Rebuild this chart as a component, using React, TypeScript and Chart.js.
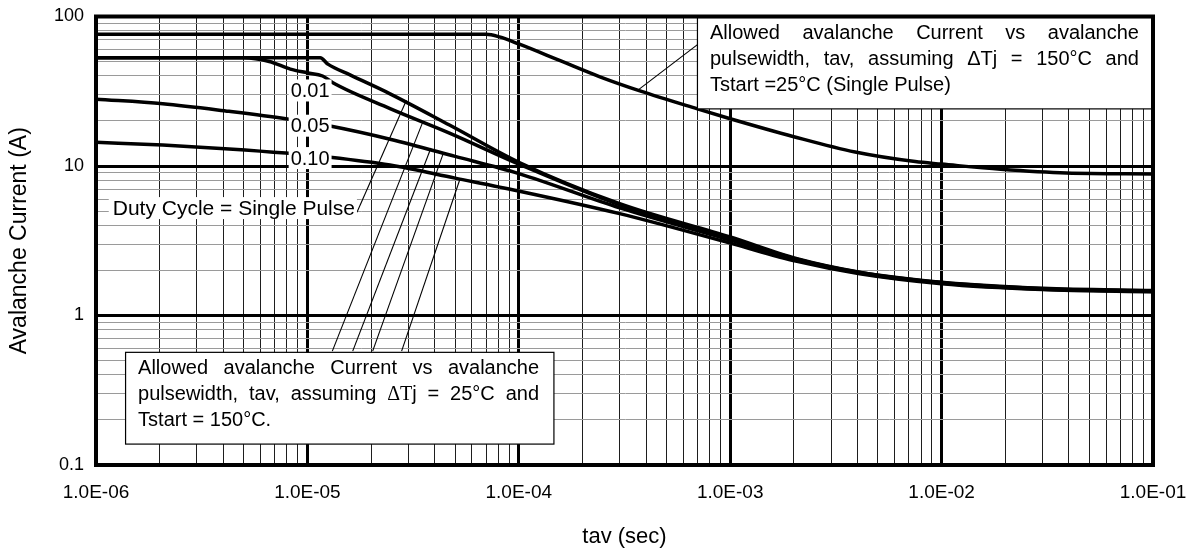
import React, { useEffect, useRef } from 'react';
import { Chart, registerables } from 'chart.js';

Chart.register(...registerables);

const FONT = '"Liberation Sans", Arial, Helvetica, sans-serif';
const SERIF = '"Liberation Serif", "Times New Roman", serif';

// ---- Data (tav in seconds, avalanche current in A) ----
const tj150T = [1e-6, 7e-5, 8.1e-5, 1e-4, 1.57e-4, 2.42e-4, 3.74e-4, 7e-4, 1e-3, 2e-3, 3.9e-3, 7.5e-3, 1e-2, 1.9e-2, 3.9e-2, 1e-1];
const tj150A = [76, 76, 73, 65.5, 50.6, 39.5, 31.8, 24.1, 20.7, 15.7, 12.4, 10.7, 10.3, 9.5, 8.97, 8.85];

const singleT = [1e-6, 1.15e-5, 1.25e-5, 1.6e-5, 2.46e-5, 4.7e-5, 1e-4, 3e-4, 1e-3, 2.07e-3, 4.1e-3, 1e-2, 3e-2, 1e-1];
const singleA = [53, 53, 48, 40.5, 30.4, 18.8, 10.6, 5.6, 3.35, 2.4, 1.95, 1.67, 1.52, 1.47];

const duty01T = [1e-6, 5e-6, 6.6e-6, 8.3e-6, 1e-5, 1.18e-5, 1.32e-5, 2.46e-5, 4.7e-5, 1e-4, 3e-4, 1e-3, 2.07e-3, 4.1e-3, 1e-2, 3e-2, 1e-1];
const duty01A = [53, 53, 50, 44.5, 42, 40, 36, 24.2, 16.6, 10.3, 5.5, 3.3, 2.38, 1.94, 1.66, 1.51, 1.46];

const duty05T = [1e-6, 2.07e-6, 4.26e-6, 7.9e-6, 1.28e-5, 2.46e-5, 5e-5, 1e-4, 3e-4, 1e-3, 2.07e-3, 4.1e-3, 1e-2, 3e-2, 1e-1];
const duty05A = [28, 26.1, 23.2, 20.7, 18.5, 15.1, 11.6, 8.9, 5.25, 3.2, 2.35, 1.92, 1.65, 1.5, 1.45];

const duty10T = [1e-6, 2.07e-6, 4.26e-6, 7.9e-6, 1.28e-5, 2.46e-5, 5e-5, 1e-4, 3e-4, 1e-3, 2.07e-3, 4.1e-3, 1e-2, 3e-2, 1e-1];
const duty10A = [14.4, 13.8, 13.0, 12.2, 11.45, 10.15, 8.3, 6.8, 4.8, 3.05, 2.3, 1.9, 1.63, 1.49, 1.44];

// ---- Axes ----
const xDecades = [1e-6, 1e-5, 1e-4, 1e-3, 1e-2, 1e-1];
const xTickLabels = ['1.0E-06', '1.0E-05', '1.0E-04', '1.0E-03', '1.0E-02', '1.0E-01'];
const yDecades = [0.1, 1, 10, 100];
const yTickLabels = ['0.1', '1', '10', '100'];
const xTitle = 'tav (sec)';
const yTitle = 'Avalanche Current (A)';

// ---- Annotations (data coordinates) ----
const dutyLabels = ['0.01', '0.05', '0.10'];
const dutyLabelT = 1.03e-5;
const dutyLabelA = [32.0, 18.6, 11.3];

const singlePulseLabel = 'Duty Cycle = Single Pulse';
const singlePulseLabelT = 1.2e-6;
const singlePulseLabelA = 5.23;

const leaderFromT = [1.716e-5, 1.312e-5, 1.638e-5, 2.036e-5, 2.79e-5, 3.66e-4];
const leaderFromA = [4.91, 0.578, 0.578, 0.578, 0.578, 32.2];
const leaderToT = [2.94e-5, 3.52e-5, 3.84e-5, 4.38e-5, 5.27e-5, 7.0e-4];
const leaderToA = [27.5, 19.8, 13.2, 12.0, 8.18, 64.9];

const upperBoxT = [7.0e-4, 0.0988];
const upperBoxA = [98.5, 24.1];
const upperBoxLines = [
  'Allowed avalanche Current vs avalanche',
  'pulsewidth, tav, assuming \u0394Tj = 150\u00b0C and',
  'Tstart =25\u00b0C (Single Pulse)',
];

const lowerBoxT = [1.38e-6, 1.466e-4];
const lowerBoxA = [0.567, 0.138];
const lowerBoxLines = [
  'Allowed avalanche Current vs avalanche',
  'pulsewidth, tav, assuming \u0394Tj = 25\u00b0C and',
  'Tstart = 150\u00b0C.',
];

function logTicks(decades: number[]) {
  const out: number[] = [];
  for (let i = 0; i < decades.length - 1; i++) {
    for (let m = 1; m <= 9; m++) out.push(m * decades[i]);
  }
  out.push(decades[decades.length - 1]);
  return out;
}

function isDecade(v: number) {
  const l = Math.log10(v);
  return Math.abs(l - Math.round(l)) < 1e-6;
}

function decadeLabel(value: number, decades: number[], labels: string[]) {
  const i = decades.findIndex((d) => Math.abs(d - value) / d < 1e-6);
  return i >= 0 ? labels[i] : '';
}

type Run = { text: string; font: string };

function toWords(line: string, serifDelta: boolean): Run[][] {
  const sans = `20px ${FONT}`;
  const serif = `20px ${SERIF}`;
  return line.split(' ').map((w) => {
    if (serifDelta && w.startsWith('\u0394T')) {
      return [
        { text: '\u0394T', font: serif },
        { text: w.slice(2), font: sans },
      ];
    }
    return [{ text: w, font: sans }];
  });
}

function drawLine(ctx: CanvasRenderingContext2D, words: Run[][], x: number, y: number, width: number, justify: boolean) {
  const widths = words.map((w) =>
    w.reduce((s, r) => {
      ctx.font = r.font;
      return s + ctx.measureText(r.text).width;
    }, 0)
  );
  ctx.font = `20px ${FONT}`;
  const space = ctx.measureText(' ').width;
  const total = widths.reduce((a, b) => a + b, 0);
  const gap = justify && words.length > 1 ? (width - total) / (words.length - 1) : space;
  let cx = x;
  words.forEach((w, i) => {
    let wx = cx;
    w.forEach((r) => {
      ctx.font = r.font;
      ctx.fillText(r.text, wx, y);
      wx += ctx.measureText(r.text).width;
    });
    cx += widths[i] + gap;
  });
}

const overlayPlugin = {
  id: 'overlay',
  afterDatasetsDraw(chart: any) {
    const ctx: CanvasRenderingContext2D = chart.ctx;
    const xs = chart.scales.x;
    const ys = chart.scales.y;
    const px = (t: number) => xs.getPixelForValue(t);
    const py = (a: number) => ys.getPixelForValue(a);
    ctx.save();

    // leader lines
    ctx.strokeStyle = '#000';
    ctx.lineWidth = 1.1;
    for (let i = 0; i < leaderFromT.length; i++) {
      ctx.beginPath();
      ctx.moveTo(px(leaderFromT[i]), py(leaderFromA[i]));
      ctx.lineTo(px(leaderToT[i]), py(leaderToA[i]));
      ctx.stroke();
    }

    // duty cycle labels
    ctx.textBaseline = 'middle';
    ctx.textAlign = 'center';
    ctx.font = `20px ${FONT}`;
    dutyLabels.forEach((lab, i) => {
      const cx = px(dutyLabelT);
      const cy = py(dutyLabelA[i]);
      const w = ctx.measureText(lab).width;
      ctx.fillStyle = '#fff';
      ctx.fillRect(cx - w / 2 - 2, cy - 11, w + 4, 22);
      ctx.fillStyle = '#000';
      ctx.fillText(lab, cx, cy + 1);
    });

    // single pulse label
    ctx.textAlign = 'left';
    ctx.font = `21px ${FONT}`;
    {
      const lx = px(singlePulseLabelT);
      const ly = py(singlePulseLabelA);
      const w = ctx.measureText(singlePulseLabel).width;
      ctx.fillStyle = '#fff';
      ctx.fillRect(lx - 4, ly - 11, w + 6, 22);
      ctx.fillStyle = '#000';
      ctx.fillText(singlePulseLabel, lx, ly + 1);
    }

    // text boxes
    const boxes = [
      { t: upperBoxT, a: upperBoxA, lines: upperBoxLines, serif: false, width: 429 },
      { t: lowerBoxT, a: lowerBoxA, lines: lowerBoxLines, serif: true, width: 401 },
    ];
    boxes.forEach((b) => {
      const x0 = px(b.t[0]);
      const x1 = px(b.t[1]);
      const y0 = py(b.a[0]);
      const y1 = py(b.a[1]);
      ctx.fillStyle = '#fff';
      ctx.fillRect(x0, y0, x1 - x0, y1 - y0);
      ctx.strokeStyle = '#000';
      ctx.lineWidth = 1.2;
      ctx.strokeRect(x0, y0, x1 - x0, y1 - y0);
      ctx.fillStyle = '#000';
      ctx.textAlign = 'left';
      ctx.textBaseline = 'middle';
      b.lines.forEach((line, i) => {
        const words = toWords(line, b.serif);
        drawLine(ctx, words, x0 + 12.5, y0 + 16.5 + 25.8 * i, b.width, i < b.lines.length - 1);
      });
    });

    ctx.restore();
  },
  afterDraw(chart: any) {
    const ctx: CanvasRenderingContext2D = chart.ctx;
    const a = chart.chartArea;
    ctx.save();
    ctx.strokeStyle = '#000';
    ctx.lineWidth = 4;
    ctx.strokeRect(a.left, a.top, a.right - a.left, a.bottom - a.top);

    ctx.fillStyle = '#000';
    ctx.textAlign = 'center';
    ctx.textBaseline = 'middle';
    ctx.font = `22px ${FONT}`;
    ctx.fillText(xTitle, (a.left + a.right) / 2, 537);

    ctx.translate(20, (a.top + a.bottom) / 2);
    ctx.rotate(-Math.PI / 2);
    ctx.font = `23px ${FONT}`;
    ctx.fillText(yTitle, 0, 0);
    ctx.restore();
  },
};

function series(t: number[], a: number[]) {
  return t.map((v, i) => ({ x: v, y: a[i] }));
}

export default function App() {
  const canvasRef = useRef<HTMLCanvasElement | null>(null);

  useEffect(() => {
    if (!canvasRef.current) return;
    const xTicks = logTicks(xDecades);
    const yTicks = logTicks(yDecades);
    const lineStyle = {
      borderColor: '#000',
      borderWidth: 3.5,
      pointRadius: 0,
      fill: false,
      cubicInterpolationMode: 'monotone' as const,
    };
    const chart = new Chart(canvasRef.current, {
      type: 'line',
      data: {
        datasets: [
          { label: 'dTj=150C Tstart=25C', data: series(tj150T, tj150A), ...lineStyle },
          { label: 'Single Pulse', data: series(singleT, singleA), ...lineStyle },
          { label: '0.01', data: series(duty01T, duty01A), ...lineStyle },
          { label: '0.05', data: series(duty05T, duty05A), ...lineStyle },
          { label: '0.10', data: series(duty10T, duty10A), ...lineStyle },
        ],
      },
      options: {
        animation: false,
        responsive: false,
        layout: { padding: { left: 0, right: 40, top: 16.5, bottom: 0 } },
        plugins: { legend: { display: false }, tooltip: { enabled: false } },
        scales: {
          x: {
            type: 'logarithmic',
            min: 1e-6,
            max: 1e-1,
            afterBuildTicks: (scale: any) => {
              scale.ticks = xTicks.map((v) => ({ value: v }));
            },
            afterFit: (scale: any) => {
              scale.height = 85;
              scale.paddingLeft = 0;
              scale.paddingRight = 0;
            },
            ticks: {
              autoSkip: false,
              maxRotation: 0,
              padding: 16,
              color: '#000',
              font: { family: FONT, size: 19 },
              callback: (value: any) => decadeLabel(Number(value), xDecades, xTickLabels),
            },
            grid: {
              drawTicks: false,
              color: (c: any) => (c.tick && isDecade(c.tick.value) ? '#000' : '#1e1e1e'),
              lineWidth: (c: any) => (c.tick && isDecade(c.tick.value) ? 3 : 1),
            },
            border: { display: true, color: '#000', width: 4 },
          },
          y: {
            type: 'logarithmic',
            min: 0.1,
            max: 100,
            afterBuildTicks: (scale: any) => {
              scale.ticks = yTicks.map((v) => ({ value: v }));
            },
            afterFit: (scale: any) => {
              scale.width = 96;
              scale.paddingTop = 0;
              scale.paddingBottom = 0;
            },
            ticks: {
              autoSkip: false,
              padding: 12,
              color: '#000',
              font: { family: FONT, size: 18 },
              callback: (value: any) => decadeLabel(Number(value), yDecades, yTickLabels),
            },
            grid: {
              drawTicks: false,
              color: (c: any) => (c.tick && isDecade(c.tick.value) ? '#000' : '#9a9a9a'),
              lineWidth: (c: any) => (c.tick && isDecade(c.tick.value) ? 3 : 1),
            },
            border: { display: true, color: '#000', width: 4 },
          },
        },
      },
      plugins: [overlayPlugin],
    } as any);
    return () => chart.destroy();
  }, []);

  return (
    <div style={{ position: 'absolute', left: 0, top: 0, width: 1193, height: 550, background: '#fff' }}>
      <canvas ref={canvasRef} width={1193} height={550} style={{ display: 'block', width: 1193, height: 550 }} />
    </div>
  );
}
